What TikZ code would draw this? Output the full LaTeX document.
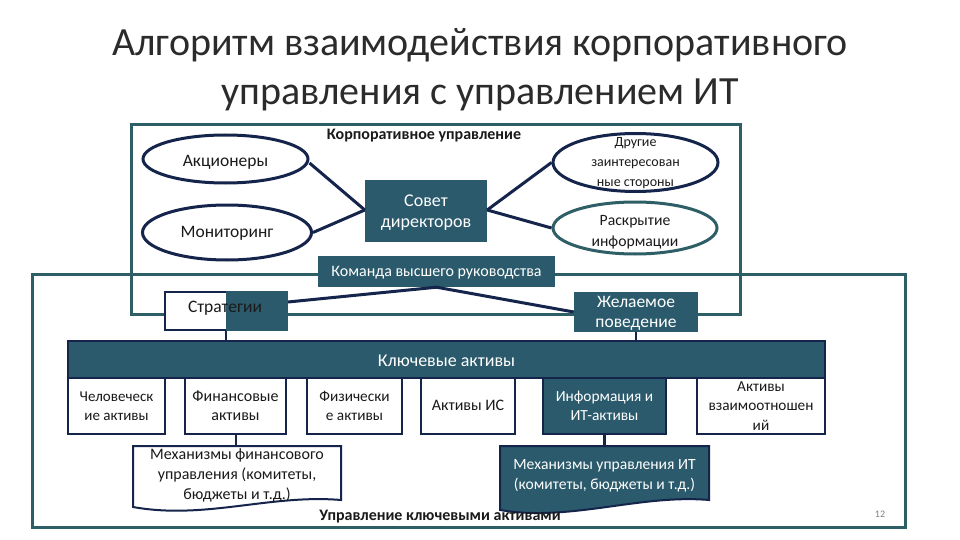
\documentclass[tikz,border=0pt]{standalone}
\usepackage{fontspec}
\setmainfont{Carlito}
\usetikzlibrary{shapes.geometric}
\definecolor{tealfill}{HTML}{2A5A6B}
\definecolor{tealframe}{HTML}{2F5F66}
\definecolor{navy}{HTML}{15244A}
\definecolor{txt}{HTML}{1A1A1A}
\definecolor{titlec}{HTML}{2B2B2B}
\newcommand{\fs}[2]{\fontsize{#1}{#2}\selectfont}
\newsavebox{\mvbox}
\newlength{\mvlen}
\newcommand{\mv}[2]{\sbox{\mvbox}{\begin{tabular}{@{}c@{}}#2\end{tabular}}%
  \setlength{\mvlen}{\ht\mvbox}\addtolength{\mvlen}{-\dp\mvbox}%
  \setlength{\mvlen}{0.5\mvlen}\addtolength{\mvlen}{#1}%
  \raisebox{-\mvlen}[0pt][0pt]{\usebox{\mvbox}}}
\begin{document}
\begin{tikzpicture}[x=1pt,y=-1pt,
  frame/.style={draw=tealframe,line width=3pt,inner sep=0pt},
  oval/.style={ellipse,draw=navy,line width=3pt,fill=white,inner sep=0pt,align=center,text=txt},
  tealbox/.style={fill=tealfill,draw=none,inner sep=0pt,align=center,text=white},
  whitebox/.style={fill=white,draw=navy,line width=2pt,inner sep=0pt,align=center,text=txt},
  conn/.style={draw=navy,line width=3pt},
  thinconn/.style={draw=navy,line width=2.2pt},
  plain/.style={inner sep=0pt,align=center}]
\useasboundingbox (0,0) rectangle (960,540);
\fill[white] (0,0) rectangle (960,540);
% title
\node[plain,text=titlec,font=\fs{40}{44}] (t1) at (480,45) {Алгоритм взаимодействия корпоративного};
\node[plain,text=titlec,font=\fs{40}{44}] (t2) at (480,95) {управления с управлением ИТ};
% frames
\node[frame,minimum width=609pt,minimum height=189pt] (cg) at (435.5,219.5) {};
\node[frame,minimum width=873pt,minimum height=253pt] (kaf) at (468.5,400.5) {};
\node[plain,text=txt,font=\bfseries\fs{16}{18}] (cgl) at (424,136) {Корпоративное управление};
% corporate governance
\node[oval,minimum width=165pt,minimum height=48pt,font=\fs{17.5}{20}] (sh) at (225.5,159) {\mv{4pt}{Акционеры}};
\node[oval,minimum width=169pt,minimum height=55pt,font=\fs{17.5}{20}] (mon) at (227,232.5) {\mv{1pt}{Мониторинг}};
\node[tealbox,minimum width=122pt,minimum height=62pt,font=\fs{18}{21}] (bod) at (426,211) {\mv{1.5pt}{Совет\\директоров}};
\node[oval,minimum width=165pt,minimum height=58pt,font=\fs{14}{20}] (oth) at (635.5,162.5) {\mv{0.5pt}{Другие\\заинтересован\\ные стороны}};
\node[oval,draw=tealframe,minimum width=164pt,minimum height=52pt,font=\fs{15.7}{20.5}] (disc) at (635,228) {\mv{4pt}{Раскрытие\\информации}};
\draw[conn] ([yshift=-4pt]sh.east) -- ([yshift=1pt]bod.west);
\draw[conn] (mon.east) -- ([yshift=1pt]bod.west);
\draw[conn] ([yshift=1pt]bod.east) -- (oth.west);
\draw[conn] ([yshift=1pt]bod.east) -- (disc.west);
\node[tealbox,minimum width=237pt,minimum height=31pt,font=\fs{16}{18}] (top) at (436.5,271.5) {\mv{1.5pt}{Команда высшего руководства}};
% strategies
\node[whitebox,minimum width=122pt,minimum height=38pt] (strat) at (226,311) {};
\fill[tealfill] (strat.north) rectangle (strat.south east);
\node[plain,text=txt,font=\fs{17.5}{20}] (stratt) at (225,308.5) {Стратегии};
\node[tealbox,minimum width=124pt,minimum height=40pt,font=\fs{17.5}{20}] (beh) at (636,312) {\mv{1pt}{Желаемое\\поведение}};
\draw[conn] ([yshift=9pt]strat.east) -- (top.south) -- (beh.west);
% key assets
\node[tealbox,draw=navy,line width=1.5pt,minimum width=757pt,minimum height=37pt,font=\fs{18}{20}] (ka) at (446.5,359.5) {\mv{2.5pt}{Ключевые активы}};
\draw[thinconn] (strat.south) -- (strat.south |- ka.north);
\draw[thinconn] (beh.south) -- (beh.south |- ka.north);
\node[whitebox,minimum width=97pt,minimum height=56pt,font=\fs{15}{19}] (hum) at (116.5,406) {\mv{1.5pt}{Человеческ\\ие активы}};
\node[whitebox,minimum width=101pt,minimum height=56pt,font=\fs{16}{19}] (fin) at (235.5,406) {\mv{1.5pt}{Финансовые\\активы}};
\node[whitebox,minimum width=95pt,minimum height=56pt,font=\fs{15.3}{19}] (phys) at (354.5,406) {\mv{1.5pt}{Физически\\е активы}};
\node[whitebox,minimum width=94pt,minimum height=56pt,font=\fs{16}{19}] (ip) at (468,406) {\mv{1pt}{Активы ИС}};
\node[tealbox,draw=navy,line width=2pt,minimum width=123pt,minimum height=56pt,font=\fs{15.4}{19}] (it) at (604.5,406) {\mv{1.5pt}{Информация и\\ИТ-активы}};
\node[whitebox,minimum width=128pt,minimum height=56pt,font=\fs{15.3}{19.5}] (rel) at (761,406) {\mv{1pt}{Активы\\взаимоотношен\\ий}};
% document shapes
\coordinate (mfintop) at (236,446);
\coordinate (mittop) at (604.5,446);
\draw[fill=white,draw=navy,line width=2pt] (133,446) -- (341,446) -- (341,500) .. controls (270,494) and (205,520) .. (133,507) -- cycle;
\draw[fill=tealfill,draw=navy,line width=2pt] (500,446) -- (709,446) -- (709,500) .. controls (640,494) and (570,522) .. (500,510) -- cycle;
\node[plain,text=txt,font=\fs{16}{20}] (mfin) at (237,475.5) {Механизмы финансового\\управления (комитеты,\\бюджеты и т.д.)};
\node[plain,text=white,font=\fs{15.6}{20}] (mit) at (604.5,476) {Механизмы управления ИТ\\(комитеты, бюджеты и т.д.)};
\draw[thinconn] (fin.south -| mfintop) -- (mfintop);
\draw[thinconn] (it.south) -- (mittop);
\node[plain,text=txt,font=\bfseries\fs{16}{18}] (kal) at (440,517) {Управление ключевыми активами};
\node[plain,text=gray,font=\fs{10}{12}] (pg) at (880,514) {12};
\end{tikzpicture}
\end{document}
